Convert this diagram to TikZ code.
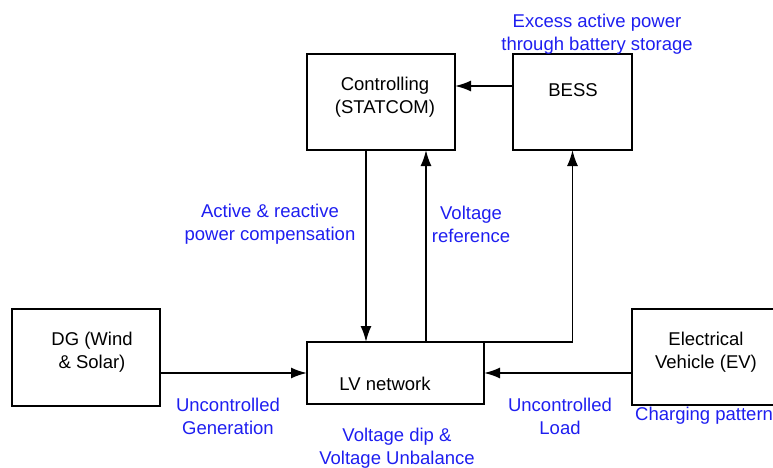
\documentclass[tikz,border=0pt]{standalone}
\usepackage{fontspec}
\setmainfont{Liberation Sans}
\usetikzlibrary{arrows.meta, positioning}
\definecolor{LabelBlue}{RGB}{30,30,240}
\tikzset{every node/.style={font=\fontsize{18.5}{23}\selectfont}}
\tikzset{BoxStyle/.style = {
			      shape          = rectangle,
			      draw           = black,
			      line width     = 1.8pt,
			      inner sep      = 0pt,
			      outer sep      = 0pt}
			}
\tikzset{EdgeStyle/.style   = {line width=1.8pt,-{Latex[length=16pt,width=11pt]}}}
\tikzset{TextStyle/.style = {text=black, align=center, inner sep=0pt}}
\tikzset{LabelStyle/.style =   {
				  text           = LabelBlue,
				  align          = center,
				  inner sep      = 0pt}
			}

\begin{document}
\begin{tikzpicture}[x=1pt,y=-1pt]
	\useasboundingbox (0,0) rectangle (773,468);
	% boxes
	\draw (381,102)   node[BoxStyle,minimum width=148pt,minimum height=96pt] (ctrl) {};
	\draw (572.5,102) node[BoxStyle,minimum width=119pt,minimum height=96pt] (bess) {};
	\draw (86,357.5)  node[BoxStyle,minimum width=148pt,minimum height=97pt] (dg) {};
	\draw (395.5,373) node[BoxStyle,minimum width=177pt,minimum height=62pt] (lv) {};
	\draw (705,357)   node[BoxStyle,minimum width=146pt,minimum height=96pt] (ev) {};

	% box texts
	\draw (385,97)  node[TextStyle] (ctrltxt) {Controlling\\(STATCOM)};
	\draw (573,90)  node[TextStyle] (besstxt) {BESS};
	\draw (92,352)  node[TextStyle] (dgtxt)   {DG (Wind\\\& Solar)};
	\draw (385,384) node[TextStyle] (lvtxt)   {LV network};
	\draw (706,352) node[TextStyle] (evtxt)   {Electrical\\Vehicle (EV)};

	% blue labels
	\draw (597,34)  node[LabelStyle] (excess)  {Excess active power\\through battery storage};
	\draw (270,224) node[LabelStyle] (actreac) {Active \& reactive\\power compensation};
	\draw (471,224) node[LabelStyle] (vref)    {Voltage\\reference};
	\draw (228,416) node[LabelStyle] (uncgen)  {Uncontrolled\\Generation};
	\draw (397,448) node[LabelStyle] (vdip)    {Voltage dip \&\\Voltage Unbalance};
	\draw (560,416) node[LabelStyle] (uncload) {Uncontrolled\\Load};
	\draw (635,416) node[LabelStyle,anchor=west] (charge) {Charging pattern};

	% connectors
	\draw[EdgeStyle] ([yshift=16pt]bess.west) to ([yshift=16pt]bess.west -| ctrl.east);
	\draw[EdgeStyle] ([xshift=-15pt]ctrl.south) to ([xshift=-15pt]ctrl.south |- lv.north);
	\draw[EdgeStyle] ([xshift=45pt]ctrl.south |- lv.north) to ([xshift=45pt]ctrl.south);
	\draw[EdgeStyle] (lv.north east) -| (bess.south);
	\draw[EdgeStyle] (dg.east |- lv.west) to (lv.west);
	\draw[EdgeStyle] (ev.west |- lv.east) to (lv.east);
\end{tikzpicture}
\end{document}
